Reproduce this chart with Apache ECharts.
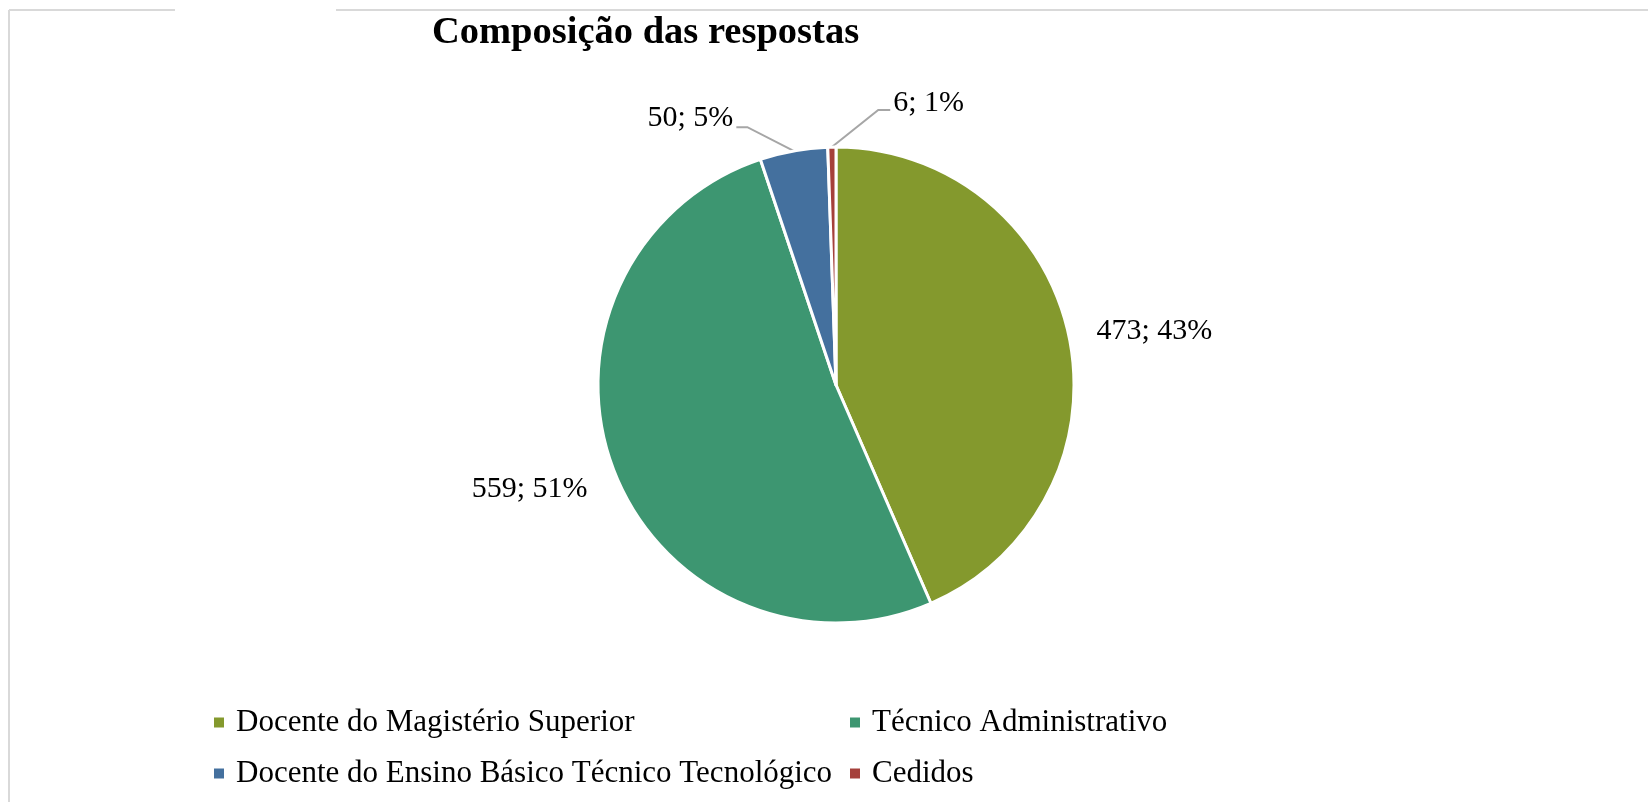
<!DOCTYPE html>
<html>
<head>
<meta charset="utf-8">
<script src="https://cdn.jsdelivr.net/npm/echarts@6/dist/echarts.min.js"></script>
<style>
html, body { margin: 0; padding: 0; background: #ffffff; }
#chart { width: 1648px; height: 802px; }
</style>
</head>
<body>
<div id="chart"></div>
<script>
// ---- data ----
const chartTitle = 'Composição das respostas';
const categories = [
  'Docente do Magistério Superior',
  'Técnico Administrativo',
  'Docente do Ensino Básico Técnico Tecnológico',
  'Cedidos'
];
const values = [473, 559, 50, 6];
const legendColumn1 = [categories[0], categories[2]];
const legendColumn2 = [categories[1], categories[3]];

// ---- styles ----
const colors = ['#84992D', '#3D9671', '#44709E', '#A5403B'];
const FONT = '"Liberation Serif", "Times New Roman", serif';
// per-slice label placement tweaks (style only, relative to library positions)
const labelLineLen = [25, 25, 24, 37];
const labelLineLen2 = [0, 0, 53, 12];
const labelLineShow = [false, false, true, true];
const labelDy = [0, 10, -9, -7];
const elbowShift = [0, 0, -42, 47];
const forceRight = [false, false, false, true];
const lastSegment = 12;
const textGap = 3;

const chart = echarts.init(document.getElementById('chart'), null, { renderer: 'canvas' });

const seriesData = categories.map((name, i) => ({
  name: name,
  value: values[i],
  itemStyle: { color: colors[i] },
  labelLine: { show: labelLineShow[i], length: labelLineLen[i], length2: labelLineLen2[i] }
}));

const legendCommon = {
  orient: 'vertical',
  icon: 'rect',
  itemWidth: 12,
  itemHeight: 12,
  itemGap: 20,
  padding: 0,
  selectedMode: false,
  textStyle: {
    fontFamily: FONT,
    fontSize: 31,
    color: '#000000',
    lineHeight: 30,
    padding: [0, 0, 0, 6]
  }
};

const option = {
  backgroundColor: '#ffffff',
  animation: false,
  title: {
    text: chartTitle,
    left: 432,
    top: 14,
    padding: 0,
    textStyle: {
      fontFamily: FONT,
      fontSize: 38.5,
      fontWeight: 'bold',
      color: '#000000'
    }
  },
  legend: [
    Object.assign({}, legendCommon, { data: legendColumn1, left: 212, top: 707 }),
    Object.assign({}, legendCommon, { data: legendColumn2, left: 848, top: 707 })
  ],
  graphic: [
    { type: 'line', shape: { x1: 9, y1: 10, x2: 175, y2: 10 }, style: { stroke: '#D9D9D9', lineWidth: 2 }, silent: true },
    { type: 'line', shape: { x1: 336, y1: 10, x2: 1648, y2: 10 }, style: { stroke: '#D9D9D9', lineWidth: 2 }, silent: true },
    { type: 'line', shape: { x1: 9, y1: 10, x2: 9, y2: 802 }, style: { stroke: '#D9D9D9', lineWidth: 2 }, silent: true }
  ],
  series: [{
    type: 'pie',
    center: [836, 385],
    radius: 238,
    startAngle: 90,
    clockwise: true,
    avoidLabelOverlap: false,
    percentPrecision: 0,
    itemStyle: { borderColor: '#ffffff', borderWidth: 3 },
    emphasis: { disabled: true },
    label: {
      show: true,
      position: 'outside',
      formatter: '{c}; {d}%',
      fontFamily: FONT,
      fontSize: 30,
      color: '#000000',
      distanceToLabelLine: textGap
    },
    labelLine: {
      lineStyle: { color: '#A6A6A6', width: 2 }
    },
    labelLayout: function (p) {
      const i = p.dataIndex;
      const r = p.labelRect;
      const anchorX = p.align === 'right' ? r.x + r.width : (p.align === 'center' ? r.x + r.width / 2 : r.x);
      const anchorY = r.y + r.height / 2;
      const res = {};
      if (labelDy[i]) { res.x = anchorX; res.y = anchorY + labelDy[i]; }
      if (labelLineShow[i] && p.labelLinePoints) {
        const pts = p.labelLinePoints.map(pt => [pt[0], pt[1]]);
        const elbow = [pts[1][0] + elbowShift[i], pts[1][1]];
        if (forceRight[i]) {
          const end = [elbow[0] + lastSegment, elbow[1]];
          res.labelLinePoints = [pts[0], elbow, end];
          res.x = end[0] + textGap + (p.align === 'right' ? r.width : 0);
          res.y = end[1] + labelDy[i];
        } else {
          res.labelLinePoints = [pts[0], elbow, pts[2]];
        }
      }
      return res;
    },
    data: seriesData
  }]
};

chart.setOption(option);
</script>
</body>
</html>
